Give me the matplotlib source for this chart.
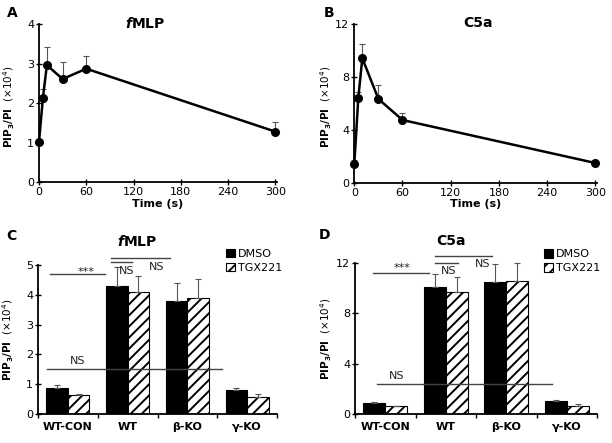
import numpy as np
import matplotlib.pyplot as plt

plt.rcParams['font.family'] = ['DejaVu Sans']
plt.rcParams['font.size'] = 8
plt.rcParams['hatch.linewidth'] = 1.4

# time courses (panels A, B)
times = [0, 5, 10, 30, 60, 300]
fmlp_time = [1.02, 2.14, 2.96, 2.61, 2.87, 1.28]
fmlp_time_err = [0.0, 0.21, 0.45, 0.44, 0.33, 0.25]
c5a_time = [1.41, 6.43, 9.41, 6.33, 4.74, 1.49]
c5a_time_err = [0.3, 0.43, 1.08, 1.08, 0.5, 0.0]
time_ticks = [0, 60, 120, 180, 240, 300]

# bar panels (C, D)
groups = ['WT-CON', 'WT', 'β-KO', 'γ-KO']
fmlp_dmso = [0.87, 4.30, 3.78, 0.80]
fmlp_dmso_err = [0.09, 0.62, 0.62, 0.08]
fmlp_tgx = [0.63, 4.09, 3.89, 0.56]
fmlp_tgx_err = [0.03, 0.54, 0.63, 0.10]
c5a_dmso = [0.90, 10.10, 10.45, 1.00]
c5a_dmso_err = [0.05, 0.98, 1.45, 0.10]
c5a_tgx = [0.63, 9.65, 10.53, 0.66]
c5a_tgx_err = [0.02, 1.22, 1.43, 0.11]

ylab = r'$\mathbf{PIP_3/PI}$  (×10$^4$)'
W, H = 612, 443
fig = plt.figure(figsize=(W / 100, H / 100), dpi=100)


def px_axes(l, t, r, b):
    return fig.add_axes([l / W, 1 - b / H, (r - l) / W, (b - t) / H])


def style(ax):
    for s in ['top', 'right']:
        ax.spines[s].set_visible(False)
    for s in ['left', 'bottom']:
        ax.spines[s].set_linewidth(1.3)
    ax.tick_params(direction='inout', length=4, width=1, pad=1.5)


def time_panel(ax, vals, errs, ymax, yticks):
    style(ax)
    ax.errorbar(times, vals, yerr=[np.zeros(len(errs)), errs], fmt='none',
                ecolor='#555555', elinewidth=0.8, capsize=2, capthick=0.8, clip_on=False)
    ax.plot(times, vals, color='black', lw=1.8, marker='o', ms=5.5, clip_on=False, zorder=3)
    ax.set_xlim(0, 302)
    ax.set_ylim(0, ymax)
    ax.set_xticks(time_ticks)
    ax.set_yticks(yticks)
    ax.set_xlabel('Time (s)', fontweight='bold', labelpad=1)


def bar_panel(ax, dmso, dmso_err, tgx, tgx_err, ymax, yticks):
    style(ax)
    x = np.arange(len(groups))
    w = 0.36
    ax.bar(x - w / 2, dmso, w, color='black', edgecolor='black', lw=0.8, label='DMSO')
    ax.bar(x + w / 2, tgx, w, color='white', edgecolor='black', lw=0.8, hatch='///', label='TGX221')
    ax.errorbar(x - w / 2, dmso, yerr=[np.zeros(4), dmso_err], fmt='none',
                ecolor='#555555', elinewidth=0.8, capsize=2, capthick=0.8, clip_on=False)
    ax.errorbar(x + w / 2, tgx, yerr=[np.zeros(4), tgx_err], fmt='none',
                ecolor='#555555', elinewidth=0.8, capsize=2, capthick=0.8, clip_on=False)
    ax.set_xlim(-0.5, 3.5)
    ax.set_ylim(0, ymax)
    ax.set_yticks(yticks)
    ax.set_xticks(np.arange(-0.5, 4, 1))
    ax.set_xticklabels([])
    ax.set_xticks(x, minor=True)
    ax.set_xticklabels(groups, minor=True, fontweight='bold')
    ax.tick_params(axis='x', which='minor', length=0, pad=6)
    ax.tick_params(axis='x', which='major', direction='out', length=3)


def sig(ax, x0, x1, y, label=None, tx=None, ty=None):
    ax.plot([x0, x1], [y, y], color='#444444', lw=1, clip_on=False)
    if label:
        ax.text(tx, ty, label, ha='center', va='center', fontsize=8, color='#222222')


def legend(ax, xa, ya):
    ax.legend(loc='upper left', bbox_to_anchor=(xa, ya), frameon=False, handlelength=0.8,
              handleheight=0.8, handletextpad=0.3, labelspacing=0.35, borderaxespad=0,
              borderpad=0, fontsize=8)


# A
axA = px_axes(39, 24, 277, 182.3)
time_panel(axA, fmlp_time, fmlp_time_err, 4, [0, 1, 2, 3, 4])
axA.set_ylabel(ylab, fontsize=7.5)
axA.yaxis.set_label_coords(-0.094, 0.48)

# B
axB = px_axes(354.3, 24, 596.9, 182.7)
time_panel(axB, c5a_time, c5a_time_err, 12, [0, 4, 8, 12])
axB.set_ylabel(ylab, fontsize=7.5)
axB.yaxis.set_label_coords(-0.085, 0.48)

# C
axC = px_axes(38, 265, 277, 414)
bar_panel(axC, fmlp_dmso, fmlp_dmso_err, fmlp_tgx, fmlp_tgx_err, 5, [0, 1, 2, 3, 4, 5])
axC.set_ylabel(ylab, fontsize=7.5)
axC.yaxis.set_label_coords(-0.09, 0.5)
sig(axC, -0.3, 0.62, 4.69, '***', 0.31, 4.78)
sig(axC, 0.72, 1.71, 5.22)
sig(axC, 0.72, 1.08, 5.1, 'NS', 0.99, 4.81)
axC.text(1.49, 4.92, 'NS', ha='center', va='center', fontsize=8, color='#222222')
sig(axC, -0.35, 2.58, 1.52, 'NS', 0.17, 1.79)
legend(axC, 0.785, 1.11)

# D
axD = px_axes(355, 262.7, 597, 414)
bar_panel(axD, c5a_dmso, c5a_dmso_err, c5a_tgx, c5a_tgx_err, 12, [0, 4, 8, 12])
axD.set_ylabel(ylab, fontsize=7.5)
axD.yaxis.set_label_coords(-0.088, 0.5)
sig(axD, -0.2, 0.72, 11.2, '***', 0.28, 11.6)
sig(axD, 0.82, 1.76, 12.57)
sig(axD, 0.82, 1.2, 12.0, 'NS', 1.04, 11.37)
axD.text(1.61, 11.9, 'NS', ha='center', va='center', fontsize=8, color='#222222')
sig(axD, -0.14, 2.76, 2.38, 'NS', 0.19, 3.0)
legend(axD, 0.78, 1.09)

# titles and panel letters
fig.text(145 / W, 1 - 23 / H, r'$\mathbfit{f}$MLP', ha='center', va='center', fontsize=10, fontweight='bold')
fig.text(478 / W, 1 - 23 / H, 'C5a', ha='center', va='center', fontsize=10, fontweight='bold')
fig.text(137 / W, 1 - 242 / H, r'$\mathbfit{f}$MLP', ha='center', va='center', fontsize=10, fontweight='bold')
fig.text(451 / W, 1 - 241 / H, 'C5a', ha='center', va='center', fontsize=10, fontweight='bold')
for lab, x, y in [('A', 12, 13), ('B', 329, 13), ('C', 11, 236), ('D', 324, 235)]:
    fig.text(x / W, 1 - y / H, lab, ha='center', va='center', fontsize=10, fontweight='bold')

fig.savefig('out.png', dpi=100)
